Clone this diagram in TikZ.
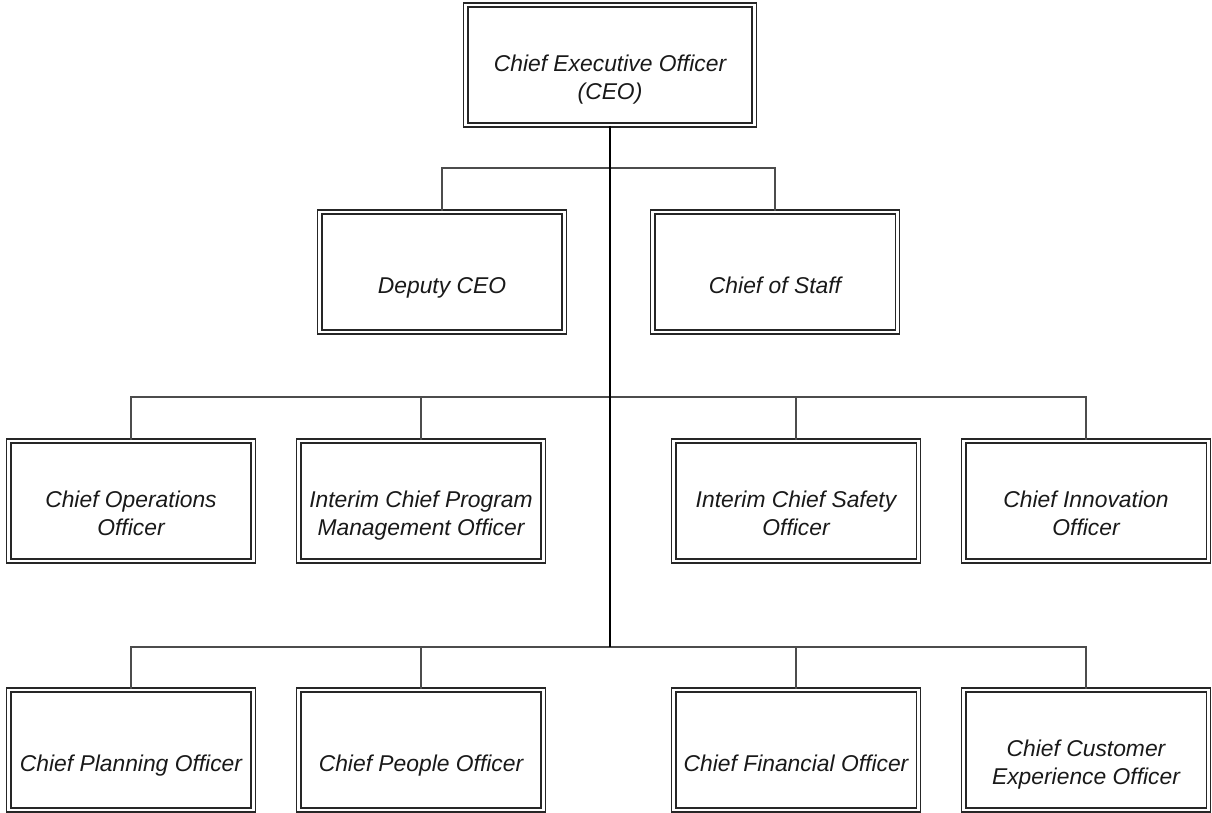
\documentclass[tikz,border=0pt]{standalone}
\usepackage{fontspec}
\setmainfont{Liberation Sans}
\usetikzlibrary{positioning}

\begin{document}
\begin{tikzpicture}[x=0.02cm, y=-0.02cm,
    post/.style={draw=black!85, double=white, double distance=1.4pt, line width=1pt,
        minimum width=4.9cm, minimum height=2.4cm, inner sep=0pt, align=center,
        text height=27pt, text depth=3pt,
        font=\fontsize{13}{16}\selectfont\itshape, text=black!90},
    post2/.style={post, text height=42.5pt},
    branch/.style={draw=black!70, line width=0.8pt},
    trunk/.style={draw=black, line width=1.6pt}]
    \useasboundingbox (0,0) rectangle (1212,813);

    % top
    \node[post2, minimum width=5.78cm] (ceo) at (610,65) {Chief Executive Officer\\(CEO)};

    % second level
    \node[post] (dep) at (442,272) {Deputy CEO};
    \node[post] (staff) at (775,272) {Chief of Staff};

    % third level
    \node[post2] (ops) at (131,501) {Chief Operations\\Officer};
    \node[post2] (prog) at (421,501) {Interim Chief Program\\Management Officer};
    \node[post2] (safety) at (796,501) {Interim Chief Safety\\Officer};
    \node[post2] (innov) at (1086,501) {Chief Innovation\\Officer};

    % bottom level
    \node[post] (plan) at (131,750) {Chief Planning Officer};
    \node[post] (people) at (421,750) {Chief People Officer};
    \node[post] (fin) at (796,750) {Chief Financial Officer};
    \node[post2] (cust) at (1086,750) {Chief Customer\\Experience Officer};

    % junctions on the trunk
    \coordinate (j2) at (610,168);
    \coordinate (j3) at (610,397);
    \coordinate (j4) at (610,647);

    \draw[branch] (dep.north) |- (j2) -| (staff.north);
    \draw[branch] (ops.north) |- (j3) -| (innov.north);
    \draw[branch] (prog.north) |- (j3);
    \draw[branch] (safety.north) |- (j3);
    \draw[branch] (plan.north) |- (j4) -| (cust.north);
    \draw[branch] (people.north) |- (j4);
    \draw[branch] (fin.north) |- (j4);

    \draw[trunk] (ceo.south) -- (j4);
\end{tikzpicture}
\end{document}
